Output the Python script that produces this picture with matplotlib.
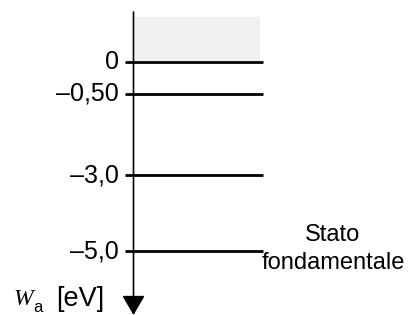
import matplotlib
matplotlib.use("Agg")
import numpy as np
import matplotlib.pyplot as plt

# livelli energetici (eV) e relative etichette
levels = [0.0, -0.50, -3.0, -5.0]
level_labels = ["0", "\u20130,50", "\u20133,0", "\u20135,0"]
ground_label = "Stato\nfondamentale"
axis_label = "[eV]"

plt.rcParams["font.family"] = ["Liberation Sans", "DejaVu Sans"]

W, H = 409, 315

# scala schematica (non lineare) come nel disegno: energia -> px dall'alto
_ek = np.array([-3.0, 0.0, 0.5, 3.0, 5.0, 10.0])
_pk = np.array([62 - 3 * 38, 62, 94, 175, 251, 251 + 5 * 38])

def fwd(e):
    return -np.interp(-np.asarray(e, float), _ek, _pk)

def inv(v):
    return -np.interp(-np.asarray(v, float), _pk, _ek)

def px2e(y):
    return float(inv(-y))

fig = plt.figure(figsize=(W / 100, H / 100), dpi=100)
ax = fig.add_axes([0, 0, 1, 1])
ax.set_yscale("function", functions=(fwd, inv))
ax.set_xlim(0, W)
ax.set_ylim(px2e(H), px2e(0))
ax.axis("off")

# continuo (zona grigia sopra lo 0)
ax.fill_between([135, 260], levels[0], px2e(17), color="#f0f0f0", lw=0)

# asse verticale con freccia verso il basso
ax.annotate("", xy=(133.5, px2e(H)), xytext=(133.5, px2e(12)),
            arrowprops=dict(arrowstyle="-|>,head_length=0.6,head_width=0.35",
                            mutation_scale=20, lw=1.2, color="black",
                            shrinkA=0, shrinkB=0))

# livelli
ax.hlines(levels, 125, 263, color="black", lw=2.0)
for e, lab in zip(levels, level_labels):
    ax.text(119, e, lab, ha="right", va="center", fontsize=18)

ax.text(333, px2e(249), ground_label, ha="center", va="center",
        fontsize=17, linespacing=1.3)

# etichetta asse W_a [eV]
ax.text(13, px2e(305), "W", ha="left", va="baseline", fontsize=17,
        family="Liberation Serif", style="italic")
ax.text(33, px2e(312), "a", ha="left", va="baseline", fontsize=12)
ax.text(56, px2e(306), axis_label, ha="left", va="baseline", fontsize=19.5)

fig.savefig("out.png", dpi=100)
